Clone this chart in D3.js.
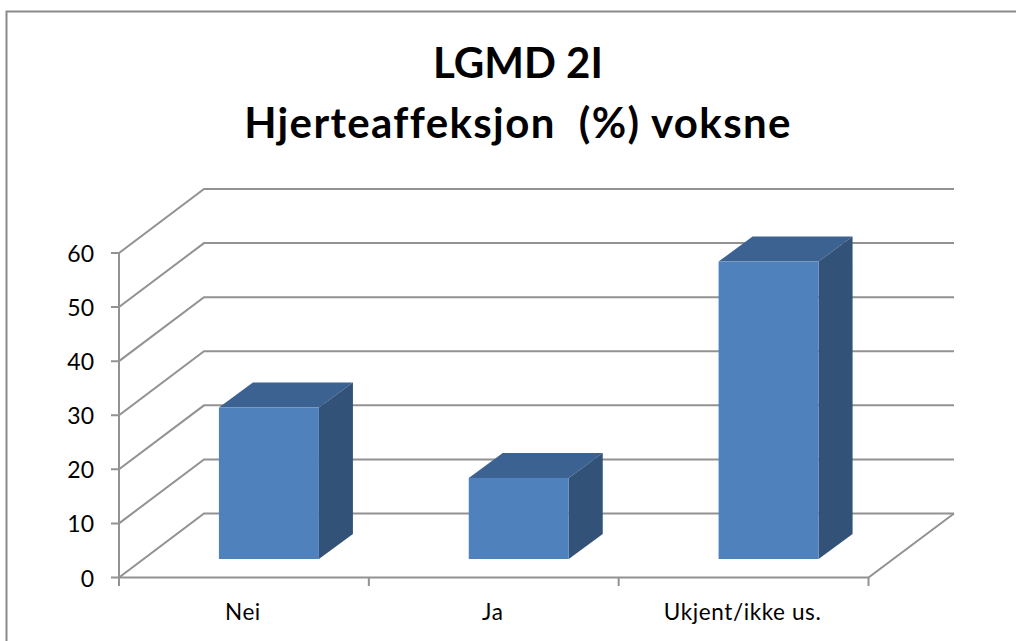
<!DOCTYPE html>
<html><head><meta charset="utf-8">
<script src="https://cdn.jsdelivr.net/npm/d3@7"></script>
<style>html,body{margin:0;padding:0;background:#fff}svg{display:block}text{font-family:Lato,Carlito,sans-serif;fill:#000}</style>
</head><body><svg id="c" width="1016" height="641"></svg>
<script>
const categories = ["Nei", "Ja", "Ukjent/ikke us."];
const values = [28, 15, 55];
const yTicks = [0, 10, 20, 30, 40, 50, 60];
const titleLines = ["LGMD 2I", "Hjerteaffeksjon  (%) voksne"];

const svg = d3.select("#c");
const axisCol = "#929292";
const y = d3.scaleLinear().domain([0, 60]).range([577.5, 253]);
const x = d3.scaleBand().domain(categories).range([119, 868.5]);
const wallDx = 85, wallDy = -64;
const barOffX = 25, barOffY = -18.5, barW = 100, depthX = 34, depthY = -25;

// frame
svg.append("path").attr("d", "M6.5,641V11.5H1016").attr("fill", "none").attr("stroke", "#8a8a8a").attr("stroke-width", 2);

// title
svg.selectAll("text.title").data(titleLines).join("text").attr("class", "title")
  .attr("x", 518).attr("y", (d, i) => 78 + i * 60).attr("text-anchor", "middle")
  .attr("font-size", 42).attr("font-weight", 700)
  .attr("letter-spacing", (d, i) => i ? 1.37 : 0)
  .style("white-space", "pre").text(d => d);

// walls
const grid = svg.append("g").attr("fill", "none").attr("stroke", axisCol).attr("stroke-width", 2);
yTicks.forEach(t => {
  grid.append("path").attr("d", d3.line()([
    [111, y(t)], [119, y(t)], [119 + wallDx, y(t) + wallDy], [954, y(t) + wallDy]
  ]));
});
grid.append("path").attr("d", d3.line()([[119, y(0)], [119, y(60)]]));
grid.append("path").attr("d", d3.line()([[119, y(0)], [868.5, y(0)], [954, y(0) + wallDy]]));
const catEdges = categories.map(c => x(c)).concat([x.range()[1]]);
catEdges.forEach(e => grid.append("path").attr("d", `M${e},${y(0)}v8.5`));

// bars
const bars = svg.selectAll("g.bar").data(categories.map((c, i) => ({c, v: values[i]}))).join("g").attr("class", "bar");
const geo = d => {
  const l = x(d.c) + x.bandwidth() / 2 + barOffX - barW / 2, r = l + barW;
  const b = y(0) + barOffY, t = y(d.v) + barOffY;
  return {l, r, b, t};
};
bars.append("path").attr("fill", "#3c6291").attr("d", d => { const g = geo(d);
  return d3.line()([[g.l, g.t], [g.l + depthX, g.t + depthY], [g.r + depthX, g.t + depthY], [g.r, g.t]]) + "Z"; });
bars.append("path").attr("fill", "#325278").attr("d", d => { const g = geo(d);
  return d3.line()([[g.r, g.t], [g.r + depthX, g.t + depthY], [g.r + depthX, g.b + depthY], [g.r, g.b]]) + "Z"; });
bars.append("rect").attr("fill", "#4f81bd")
  .attr("x", d => geo(d).l).attr("y", d => geo(d).t)
  .attr("width", barW).attr("height", d => geo(d).b - geo(d).t);

// labels
svg.selectAll("text.yl").data(yTicks).join("text").attr("class", "yl")
  .attr("x", 94).attr("y", d => y(d) + 9).attr("text-anchor", "end").attr("font-size", 23).text(d => d);
svg.selectAll("text.xl").data(categories).join("text").attr("class", "xl")
  .attr("x", d => x(d) + x.bandwidth() / 2 - 1).attr("y", 620).attr("text-anchor", "middle")
  .attr("font-size", 22.5).attr("letter-spacing", 0.6).text(d => d);
</script></body></html>
